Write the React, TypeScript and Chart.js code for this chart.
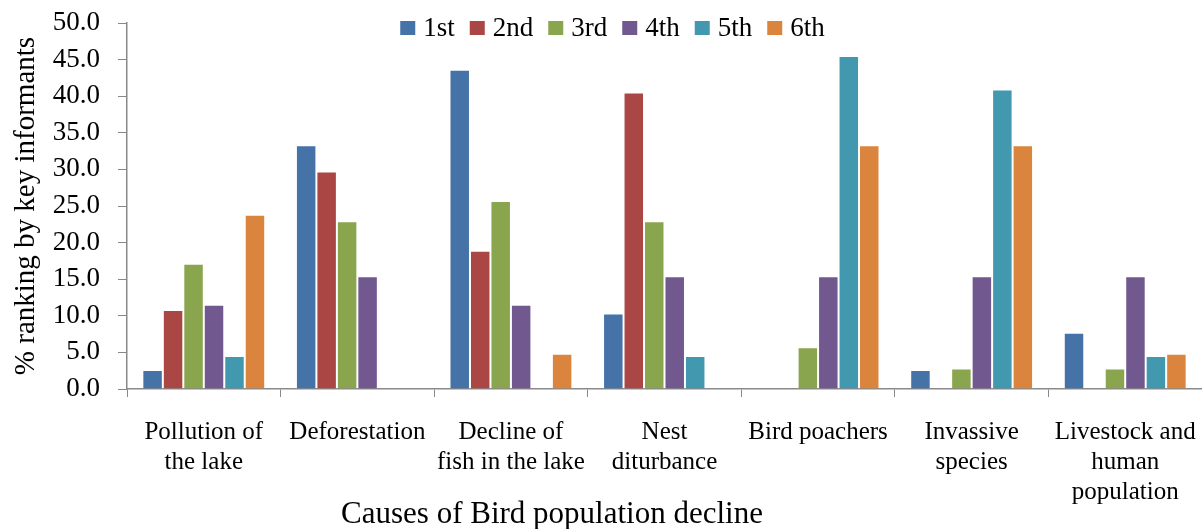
import React, { useEffect, useRef } from "react";
import { Chart, registerables } from "chart.js";

Chart.register(...registerables);

const categories: string[][] = [
  ["Pollution of", "the lake"],
  ["Deforestation"],
  ["Decline of", "fish in the lake"],
  ["Nest", "diturbance"],
  ["Bird poachers"],
  ["Invassive", "species"],
  ["Livestock and", "human", "population"],
];

const seriesLabels = ["1st", "2nd", "3rd", "4th", "5th", "6th"];
const first = [2.6, 33.3, 43.6, 10.3, 0, 2.6, 7.7];
const second = [10.8, 29.7, 18.9, 40.5, 0, 0, 0];
const third = [17.1, 22.9, 25.7, 22.9, 5.7, 2.8, 2.8];
const fourth = [11.5, 15.4, 11.5, 15.4, 15.4, 15.4, 15.4];
const fifth = [4.5, 0, 0, 4.5, 45.5, 40.9, 4.5];
const sixth = [23.8, 0, 4.8, 0, 33.3, 33.3, 4.8];
const seriesColors = ["#4572A7", "#AA4643", "#89A54E", "#71588F", "#4198AF", "#DB843D"];

const yMin = 0;
const yMax = 50;
const yStep = 5;

const xTitle = "Causes of Bird population decline";
const yTitle = "% ranking by key informants";

const AXIS = "#898989";
const SERIF = '"Liberation Serif", "Times New Roman", serif';

const legendPlugin = {
  id: "topLegend",
  afterDraw(chart: any) {
    const ctx = chart.ctx as CanvasRenderingContext2D;
    ctx.save();
    ctx.font = `27px ${SERIF}`;
    const box = 15;
    const boxH = 14;
    const gap = 8;
    const spacing = 15;
    const items = chart.data.datasets.map((d: any) => ({
      label: d.label as string,
      color: d.backgroundColor as string,
      w: ctx.measureText(d.label).width,
    }));
    const total =
      items.reduce((s: number, it: any) => s + box + gap + it.w, 0) + spacing * (items.length - 1);
    let x = chart.width / 2 + 11.5 - total / 2;
    const cy = 28;
    ctx.textBaseline = "middle";
    ctx.textAlign = "left";
    for (const it of items) {
      ctx.fillStyle = it.color;
      ctx.fillRect(x, cy - boxH / 2, box, boxH);
      ctx.fillStyle = "#000";
      ctx.fillText(it.label, x + box + gap, cy + 1);
      x += box + gap + it.w + spacing;
    }
    ctx.restore();
  },
};

const xTitlePlugin = {
  id: "xTitle",
  afterDraw(chart: any) {
    const ctx = chart.ctx as CanvasRenderingContext2D;
    ctx.save();
    ctx.font = `31px ${SERIF}`;
    ctx.fillStyle = "#000";
    ctx.textAlign = "center";
    ctx.textBaseline = "middle";
    ctx.fillText(xTitle, chart.chartArea.left + 425, 515);
    ctx.restore();
  },
};

export default function App() {
  const ref = useRef<HTMLCanvasElement | null>(null);

  useEffect(() => {
    if (!ref.current) return;
    const values = [first, second, third, fourth, fifth, sixth];
    const chart = new Chart(ref.current, {
      type: "bar",
      data: {
        labels: categories,
        datasets: seriesLabels.map((label, i) => ({
          label,
          data: values[i],
          backgroundColor: seriesColors[i],
          borderColor: "rgba(255,255,255,0.45)",
          borderWidth: 1,
          barPercentage: 1,
          categoryPercentage: 0.8,
        })),
      },
      options: {
        animation: false,
        responsive: true,
        maintainAspectRatio: false,
        layout: { padding: { top: 23, right: 0, bottom: 0, left: 0 } },
        plugins: {
          legend: { display: false },
          tooltip: { enabled: false },
          title: { display: false },
        },
        scales: {
          x: {
            afterFit: (scale: any) => {
              scale.height = 140;
              scale.paddingLeft = 0;
              scale.paddingRight = 0;
            },
            grid: {
              display: true,
              drawOnChartArea: false,
              drawTicks: true,
              tickLength: 8,
              tickColor: AXIS,
              offset: true,
            },
            border: { display: true, color: AXIS, width: 1.5 },
            ticks: {
              color: "#000",
              font: { family: SERIF, size: 25, lineHeight: 1.2 },
              padding: 20,
              maxRotation: 0,
              minRotation: 0,
              autoSkip: false,
            },
          },
          y: {
            min: yMin,
            max: yMax,
            afterFit: (scale: any) => {
              scale.width = 127;
              scale.paddingTop = 0;
              scale.paddingBottom = 0;
            },
            grid: {
              display: true,
              drawOnChartArea: false,
              drawTicks: true,
              tickLength: 9,
              tickColor: AXIS,
            },
            border: { display: true, color: AXIS, width: 1.5 },
            ticks: {
              stepSize: yStep,
              color: "#000",
              font: { family: SERIF, size: 27 },
              padding: 18,
              callback: (v: any) => Number(v).toFixed(1),
            },
            title: {
              display: true,
              text: yTitle,
              color: "#000",
              font: { family: SERIF, size: 29 },
              padding: { top: 9, bottom: 10 },
            },
          },
        },
      },
      plugins: [legendPlugin, xTitlePlugin],
    });
    return () => chart.destroy();
  }, []);

  return (
    <div style={{ position: "fixed", left: 0, top: 0, width: 1202, height: 529, background: "#fff" }}>
      <canvas ref={ref} />
    </div>
  );
}
